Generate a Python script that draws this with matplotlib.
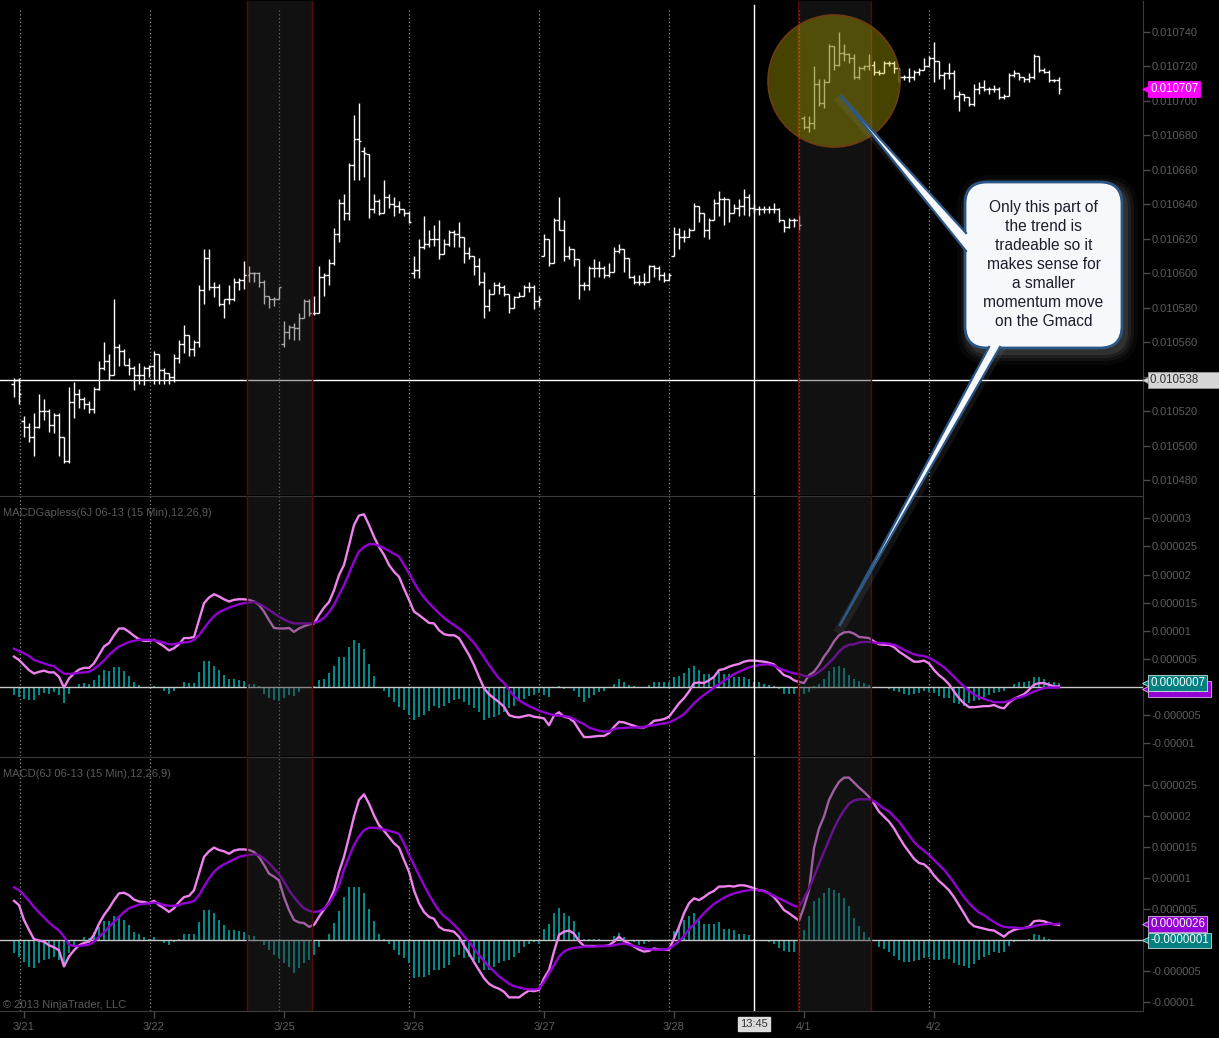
import numpy as np
import matplotlib.pyplot as plt
import matplotlib.transforms as mtransforms
from matplotlib.patches import FancyBboxPatch, Ellipse, Polygon
from matplotlib.lines import Line2D
from matplotlib.ticker import FixedLocator, FuncFormatter

plt.rcParams['font.family'] = ['Liberation Sans', 'DejaVu Sans']

# 6J 06-13 (15 Min) bars, prices in millionths above 0.010000
price_open = [
    536, 538, 514, 511, 505, 511, 520, 520, 512, 518,
    505, 491, 525, 530, 527, 524, 521, 533, 545, 549,
    541, 557, 555, 547, 545, 541, 541, 545, 546, 553,
    544, 542, 540, 551, 559, 564, 556, 560, 590, 609,
    592, 592, 582, 585, 585, 595, 596, 599, 600, 600,
    595, 587, 585, 585, 559, 566, 569, 568, 574, 584,
    577, 577, 598, 599, 606, 623, 641, 635, 663, 678,
    671, 669, 637, 642, 635, 644, 640, 639, 637, 635,
    600, 602, 615, 617, 620, 620, 611, 617, 624, 623,
    621, 612, 610, 604, 595, 581, 588, 593, 592, 588,
    580, 586, 587, 592, 592, 584, 610, 620, 606, 631,
    625, 610, 614, 608, 593, 593, 603, 603, 603, 599,
    601, 613, 614, 609, 598, 595, 595, 595, 604, 603,
    599, 596, 610, 623, 621, 621, 625, 639, 635, 625,
    631, 641, 643, 643, 635, 638, 639, 644, 638, 637,
    637, 637, 637, 637, 631, 627, 631, 631, 690, 685,
    687, 710, 699, 711, 732, 721, 728, 727, 725, 714,
    719, 720, 721, 717, 716, 722, 722, 719, 714, 714,
    714, 717, 718, 720, 725, 723, 715, 716, 716, 703,
    704, 702, 698, 707, 708, 707, 707, 707, 702, 703,
    715, 716, 714, 713, 714, 726, 718, 717, 712, 712]
price_high = [
    539, 539, 517, 513, 519, 530, 527, 521, 519, 519,
    505, 534, 537, 533, 528, 526, 534, 549, 560, 553,
    585, 559, 556, 551, 546, 548, 546, 547, 555, 553,
    545, 542, 553, 561, 570, 564, 561, 593, 614, 614,
    595, 594, 585, 593, 597, 597, 607, 604, 601, 601,
    596, 587, 586, 592, 572, 570, 571, 577, 585, 585,
    587, 604, 600, 608, 626, 643, 646, 664, 692, 699,
    673, 669, 646, 643, 654, 646, 644, 642, 637, 636,
    610, 620, 633, 625, 628, 631, 620, 625, 625, 630,
    621, 615, 610, 609, 601, 591, 595, 595, 593, 588,
    587, 589, 593, 595, 593, 587, 623, 620, 632, 644,
    631, 616, 614, 608, 595, 604, 608, 607, 604, 606,
    615, 617, 614, 609, 599, 599, 600, 605, 605, 604,
    601, 600, 627, 626, 625, 626, 641, 639, 635, 632,
    643, 648, 644, 643, 640, 643, 649, 646, 640, 639,
    639, 639, 641, 638, 631, 632, 632, 634, 691, 691,
    720, 713, 713, 733, 732, 740, 733, 728, 727, 720,
    721, 727, 723, 718, 723, 723, 723, 719, 715, 719,
    718, 719, 725, 726, 734, 723, 717, 722, 718, 706,
    704, 702, 710, 711, 712, 708, 709, 708, 704, 716,
    718, 716, 714, 716, 727, 726, 719, 718, 713, 714]
price_low = [
    528, 524, 505, 502, 494, 510, 515, 508, 507, 494,
    490, 490, 516, 522, 521, 519, 519, 532, 544, 538,
    541, 546, 547, 541, 532, 536, 535, 540, 536, 536,
    536, 536, 537, 548, 554, 552, 552, 557, 582, 590,
    586, 581, 574, 582, 584, 590, 591, 595, 595, 592,
    582, 580, 581, 585, 557, 562, 561, 561, 574, 575,
    576, 577, 587, 593, 605, 618, 631, 631, 654, 654,
    656, 632, 635, 634, 635, 638, 633, 635, 633, 629,
    597, 597, 614, 615, 616, 608, 611, 616, 615, 615,
    606, 608, 599, 593, 574, 578, 588, 588, 587, 577,
    580, 586, 587, 589, 579, 581, 610, 604, 606, 625,
    607, 608, 604, 585, 590, 590, 598, 598, 597, 598,
    601, 612, 601, 597, 594, 593, 593, 595, 598, 596,
    595, 596, 610, 614, 618, 621, 625, 630, 621, 620,
    631, 633, 628, 630, 635, 633, 634, 633, 635, 634,
    635, 635, 635, 630, 624, 626, 627, 625, 684, 682,
    684, 697, 696, 711, 718, 720, 723, 722, 713, 713,
    718, 718, 715, 715, 716, 720, 716, 711, 712, 711,
    712, 715, 718, 720, 711, 713, 707, 713, 701, 694,
    700, 697, 697, 704, 706, 704, 705, 701, 701, 703,
    714, 712, 711, 711, 713, 717, 716, 711, 711, 704]
price_close = [
    538, 530, 511, 505, 511, 520, 520, 512, 518, 505,
    491, 525, 530, 527, 524, 521, 533, 545, 549, 541,
    557, 555, 547, 545, 541, 541, 545, 546, 553, 544,
    542, 540, 551, 559, 564, 556, 560, 590, 609, 592,
    592, 582, 585, 585, 595, 596, 599, 600, 600, 595,
    587, 585, 585, 592, 566, 569, 568, 574, 584, 577,
    577, 598, 599, 606, 623, 641, 635, 663, 678, 677,
    670, 637, 642, 635, 644, 640, 639, 637, 635, 630,
    602, 615, 617, 620, 620, 611, 617, 624, 623, 621,
    612, 610, 604, 595, 581, 588, 593, 592, 588, 580,
    586, 587, 592, 592, 584, 585, 620, 606, 631, 625,
    610, 614, 608, 593, 593, 603, 603, 603, 599, 601,
    613, 614, 609, 598, 595, 595, 595, 604, 603, 599,
    596, 599, 623, 621, 621, 625, 639, 635, 625, 631,
    641, 643, 643, 635, 638, 639, 644, 638, 637, 637,
    637, 637, 637, 631, 627, 631, 631, 628, 685, 687,
    710, 699, 711, 732, 721, 728, 727, 725, 714, 719,
    720, 721, 717, 716, 722, 722, 719, 714, 714, 714,
    717, 718, 720, 725, 723, 715, 716, 716, 703, 704,
    702, 698, 707, 708, 707, 707, 707, 702, 703, 715,
    716, 714, 713, 714, 726, 718, 717, 712, 712, 707]

# MACDGapless(12,26,9), units of 1e-7
gap_macd = [
    54, 48, 39, 30, 24, 27, 29, 26, 26, 18,
    -1, 15, 24, 31, 34, 34, 42, 57, 72, 78,
    92, 104, 104, 98, 91, 85, 82, 82, 84, 78,
    72, 65, 69, 76, 87, 87, 89, 119, 149, 159,
    165, 161, 156, 152, 155, 156, 156, 155, 152, 146,
    134, 119, 105, 104, 104, 105, 98, 104, 108, 111,
    113, 128, 141, 151, 172, 199, 217, 252, 288, 305,
    307, 288, 267, 249, 235, 217, 205, 196, 175, 155,
    134, 128, 121, 114, 113, 101, 94, 92, 92, 87,
    72, 57, 39, 18, -2, -13, -20, -27, -35, -50,
    -53, -54, -52, -50, -53, -54, -56, -68, -51, -45,
    -53, -55, -62, -76, -89, -89, -88, -87, -87, -82,
    -71, -62, -63, -66, -69, -72, -72, -68, -60, -59,
    -57, -53, -41, -29, -20, -8, 7, 8, 7, 12,
    18, 30, 32, 36, 39, 41, 45, 47, 47, 46,
    45, 43, 40, 30, 21, 18, 12, 9, 7, 21,
    27, 39, 54, 66, 81, 92, 97, 98, 95, 89,
    88, 87, 81, 76, 75, 75, 71, 63, 57, 51,
    45, 45, 47, 42, 30, 21, 14, 5, -8, -20,
    -29, -36, -36, -35, -34, -34, -32, -36, -38, -28,
    -21, -17, -13, -5, 4, 7, 7, 4, 1, 1]
gap_avg = [
    68, 64, 60, 55, 48, 45, 42, 39, 37, 30,
    24, 23, 24, 25, 26, 27, 32, 39, 47, 57,
    65, 72, 76, 80, 82, 84, 84, 84, 83, 81,
    79, 76, 76, 78, 79, 80, 84, 92, 104, 116,
    126, 133, 137, 141, 144, 147, 149, 150, 151, 148,
    143, 137, 131, 125, 120, 116, 113, 113, 113, 113,
    114, 117, 123, 133, 146, 164, 181, 202, 223, 241,
    249, 254, 254, 251, 247, 242, 237, 232, 217, 202,
    186, 171, 159, 149, 140, 131, 123, 116, 110, 104,
    97, 88, 78, 66, 53, 39, 27, 15, 7, -5,
    -16, -24, -29, -34, -38, -42, -45, -48, -50, -51,
    -52, -53, -57, -62, -66, -72, -75, -78, -79, -79,
    -75, -73, -73, -72, -72, -72, -71, -69, -68, -66,
    -65, -63, -59, -54, -48, -39, -29, -21, -14, -8,
    -1, 5, 11, 17, 23, 27, 31, 35, 37, 39,
    40, 40, 38, 33, 30, 27, 24, 23, 20, 18,
    21, 27, 34, 43, 52, 63, 71, 75, 76, 79,
    80, 80, 79, 78, 78, 77, 75, 71, 66, 62,
    58, 56, 55, 52, 47, 41, 35, 27, 18, 9,
    1, -7, -13, -18, -21, -24, -27, -27, -27, -25,
    -21, -19, -16, -12, -8, -5, -2, -1, -1, -1]
gap_diff = [
    -14, -18, -21, -24, -23, -15, -11, -12, -9, -15,
    -28, -12, 0, 5, 7, 5, 12, 21, 30, 28,
    35, 36, 28, 20, 9, 4, -1, 0, 1, -1,
    -8, -12, -7, -1, 8, 7, 7, 27, 47, 46,
    38, 30, 21, 14, 14, 12, 11, 5, 5, 2,
    -12, -19, -23, -25, -19, -14, -16, -9, -2, -1,
    1, 12, 15, 24, 37, 54, 54, 71, 84, 79,
    68, 40, 20, 0, -8, -18, -27, -36, -41, -50,
    -59, -53, -50, -43, -34, -37, -33, -29, -23, -21,
    -27, -32, -37, -45, -59, -55, -53, -49, -44, -38,
    -33, -25, -21, -16, -14, -11, -14, -17, -2, 2,
    -4, -1, -8, -17, -26, -20, -15, -9, -8, -2,
    6, 14, 8, 4, 1, 0, 0, 4, 9, 8,
    8, 9, 17, 20, 24, 34, 37, 30, 23, 23,
    18, 27, 23, 23, 18, 17, 18, 14, 9, 9,
    5, 4, 1, -4, -12, -12, -12, -14, -12, -9,
    2, 5, 14, 28, 36, 37, 33, 21, 15, 11,
    7, 4, 0, -2, -2, -4, -7, -9, -13, -14,
    -13, -10, -7, -9, -11, -16, -20, -20, -29, -31,
    -33, -29, -25, -23, -18, -14, -11, -9, -8, -1,
    5, 8, 8, 11, 17, 17, 14, 9, 8, 7]

# MACD(12,26,9), units of 1e-7
macd_line = [
    63, 56, 32, 16, 1, -1, -3, -9, -12, -17,
    -43, -27, -17, -9, -5, -3, 8, 26, 40, 51,
    64, 75, 76, 72, 65, 62, 61, 59, 63, 56,
    51, 45, 51, 61, 69, 71, 80, 107, 134, 143,
    149, 145, 143, 139, 144, 146, 146, 145, 142, 134,
    121, 107, 102, 96, 69, 48, 32, 28, 27, 21,
    24, 37, 49, 61, 80, 110, 134, 166, 199, 226,
    235, 220, 201, 185, 176, 166, 156, 149, 129, 110,
    80, 59, 45, 37, 34, 21, 16, 15, 13, 5,
    -9, -22, -36, -49, -62, -71, -76, -79, -84, -93,
    -93, -93, -87, -82, -83, -81, -62, -49, -19, 8,
    13, 15, 10, -2, -10, -10, -10, -10, -10, -9,
    -3, 5, -2, -6, -11, -16, -19, -18, -14, -16,
    -16, -16, 2, 21, 43, 59, 67, 64, 69, 75,
    79, 86, 86, 87, 86, 88, 88, 86, 83, 80,
    79, 75, 69, 59, 48, 43, 37, 31, 53, 80,
    148, 180, 199, 226, 242, 255, 262, 262, 254, 246,
    239, 231, 220, 207, 199, 191, 180, 166, 153, 142,
    131, 124, 122, 115, 104, 95, 88, 80, 69, 56,
    43, 29, 22, 20, 18, 16, 15, 10, 5, 12,
    16, 18, 19, 21, 30, 31, 30, 27, 25, 24]
macd_avg = [
    85, 80, 72, 63, 53, 44, 36, 28, 21, 15,
    5, -8, -10, -10, -9, -8, -3, 5, 12, 21,
    29, 37, 45, 51, 54, 57, 58, 59, 60, 59,
    56, 55, 55, 56, 59, 60, 63, 72, 86, 99,
    110, 117, 122, 126, 130, 134, 136, 137, 138, 137,
    131, 124, 115, 106, 94, 80, 69, 59, 51, 47,
    45, 46, 50, 59, 72, 88, 113, 134, 153, 167,
    177, 181, 181, 180, 178, 176, 174, 171, 156, 137,
    121, 104, 88, 73, 59, 47, 38, 32, 24, 16,
    6, -3, -14, -25, -34, -44, -51, -59, -65, -71,
    -75, -77, -79, -80, -80, -79, -68, -54, -41, -27,
    -19, -15, -13, -12, -11, -11, -11, -10, -10, -10,
    -9, -7, -6, -8, -10, -12, -14, -15, -16, -16,
    -16, -14, -9, -2, 6, 17, 25, 34, 43, 51,
    58, 63, 68, 72, 75, 77, 79, 80, 81, 80,
    78, 75, 71, 67, 63, 59, 55, 53, 67, 83,
    102, 123, 142, 161, 180, 196, 209, 220, 225, 227,
    227, 227, 224, 218, 212, 207, 199, 191, 180, 169,
    158, 150, 144, 137, 129, 121, 113, 103, 92, 80,
    69, 59, 51, 44, 40, 34, 29, 24, 21, 20,
    20, 19, 19, 20, 22, 24, 25, 26, 25, 26]
macd_diff = [
    -21, -27, -36, -44, -46, -38, -33, -31, -27, -33,
    -43, -22, -9, 0, 5, 3, 12, 21, 31, 31,
    39, 38, 32, 24, 13, 9, 5, 2, 5, 0,
    -5, -9, -3, 2, 9, 9, 10, 29, 48, 48,
    44, 32, 24, 16, 16, 15, 13, 8, 6, -2,
    -9, -17, -24, -30, -38, -44, -53, -46, -38, -33,
    -25, -11, 0, 9, 27, 47, 69, 86, 86, 86,
    75, 49, 30, 10, 1, -7, -16, -25, -30, -38,
    -62, -60, -60, -57, -49, -49, -46, -41, -27, -25,
    -30, -27, -33, -38, -49, -48, -44, -38, -34, -33,
    -27, -21, -11, -6, -3, -6, 17, 25, 44, 51,
    43, 38, 30, 13, 1, 2, 2, 2, -1, 0,
    6, 11, 5, -1, -4, -9, -6, -3, -1, -2,
    -2, -2, 15, 22, 32, 39, 43, 34, 26, 26,
    26, 28, 18, 18, 16, 10, 10, 8, 2, 0,
    -2, -3, -6, -14, -18, -19, -19, -22, 16, 38,
    63, 68, 75, 84, 80, 76, 68, 55, 36, 22,
    13, 5, -2, -11, -15, -19, -26, -32, -36, -36,
    -34, -33, -29, -27, -33, -33, -31, -31, -38, -41,
    -43, -45, -39, -33, -27, -24, -19, -21, -19, -10,
    -3, -2, -1, 1, 9, 8, 5, 1, 0, -1]

day_labels = ['3/21', '3/22', '3/25', '3/26', '3/27', '3/28', '4/1', '4/2']
day_first_bar = [2, 28, 54, 80, 106, 132, 158, 184]
session_breaks = [1.2, 27.2, 53.0, 79.0, 105.0, 131.0, 157.0, 183.0]
highlight_spans = [(46.55, 59.55), (156.75, 171.4)]
cursor_bar = 148
cursor_price = 0.010538

price_ticks = [0.010480, 0.010500, 0.010520, 0.010540, 0.010560, 0.010580, 0.010600,
               0.010620, 0.010640, 0.010660, 0.010680, 0.010700, 0.010720, 0.010740]
gap_ticks = [-0.00001, -0.000005, 0.000005, 0.00001, 0.000015, 0.00002, 0.000025, 0.00003]
macd_ticks = [-0.00001, -0.000005, 0.000005, 0.00001, 0.000015, 0.00002, 0.000025]

PINK = '#ee82ee'
PURPLE = '#9400d3'
TEAL = '#008b8b'

W, H = 1219, 1038
fig = plt.figure(figsize=(W / 100, H / 100), dpi=100, facecolor='black')
# pixel coordinates measured from the top-left corner of the picture
px = mtransforms.Affine2D().scale(1 / 100, -1 / 100).translate(0, H / 100) + fig.dpi_scale_trans


def panel(top, bottom):
    return fig.add_axes([0, 1 - bottom / H, 1143 / W, (bottom - top) / H])


ax_p = panel(1, 495)
ax_g = panel(496, 756)
ax_m = panel(757, 1011)
axes = (ax_p, ax_g, ax_m)

idx = np.arange(len(price_close))
o = 0.0100 + np.array(price_open) * 1e-6
hi = 0.0100 + np.array(price_high) * 1e-6
lo = 0.0100 + np.array(price_low) * 1e-6
c = 0.0100 + np.array(price_close) * 1e-6

for ax in axes:
    ax.set_facecolor('black')
    ax.set_xlim(-2.8, 225.8)
    for side in ('left', 'top', 'bottom'):
        ax.spines[side].set_visible(False)
    ax.spines['right'].set_color('#3c3c3c')
    ax.yaxis.tick_right()
    ax.tick_params(axis='y', direction='out', length=5, width=1, color='#4a4a4a',
                   labelcolor='#5c5c5c', labelsize=8, pad=1)
for ax in (ax_g, ax_m):
    ax.spines['top'].set_visible(True)
    ax.spines['top'].set_color('#3c3c3c')
ax_m.spines['bottom'].set_visible(True)
ax_m.spines['bottom'].set_color('#3c3c3c')

# price panel
ax_p.set_ylim(0.0104713, 0.0107580)
ax_p.vlines(idx, lo, hi, color='white', lw=1, zorder=2)
ax_p.hlines(o, idx - 0.5, idx, color='white', lw=1, zorder=2)
ax_p.hlines(c, idx, idx + 0.5, color='white', lw=1, zorder=2)
ax_p.yaxis.set_major_locator(FixedLocator(price_ticks))
ax_p.yaxis.set_major_formatter(FuncFormatter(lambda v, p: f'{v:.6f}'))
ax_p.tick_params(axis='x', bottom=False, labelbottom=False)

# indicator panels
small = FuncFormatter(lambda v, p: f'{v:.6f}'.rstrip('0'))
ax_g.set_ylim(-122.7e-7, 339.6e-7)
ax_m.set_ylim(-115e-7, 295.3e-7)
for ax, line, avg, diff, ticks in ((ax_g, gap_macd, gap_avg, gap_diff, gap_ticks),
                                   (ax_m, macd_line, macd_avg, macd_diff, macd_ticks)):
    ax.bar(idx, np.array(diff) * 1e-7, width=0.45, color=TEAL, zorder=2)
    ax.axhline(0, color='#c8c8c8', lw=1, zorder=2.5)
    ax.plot(idx, np.array(line) * 1e-7, color=PINK, lw=1.7, zorder=3)
    ax.plot(idx, np.array(avg) * 1e-7, color=PURPLE, lw=1.7, zorder=3.1)
    ax.yaxis.set_major_locator(FixedLocator(ticks))
    ax.yaxis.set_major_formatter(small)
ax_g.tick_params(axis='x', bottom=False, labelbottom=False)
ax_m.set_xticks(day_first_bar)
ax_m.set_xticklabels(day_labels)
ax_m.tick_params(axis='x', direction='out', length=5, width=1, color='#4a4a4a',
                 labelcolor='#5c5c5c', labelsize=8, pad=3)

# session separators
for s in session_breaks:
    ax_p.axvline(s, ymax=0.986, color='#8c8c8c', lw=0.9, ls=(0, (1, 2)), zorder=1)
    ax_g.axvline(s, color='#8c8c8c', lw=0.9, ls=(0, (1, 2)), zorder=1)
    ax_m.axvline(s, color='#8c8c8c', lw=0.9, ls=(0, (1, 2)), zorder=1)

# crosshair
ax_p.axvline(cursor_bar, ymax=0.992, color='white', lw=1, zorder=4)
ax_g.axvline(cursor_bar, color='white', lw=1, zorder=4)
ax_m.axvline(cursor_bar, color='white', lw=1, zorder=4)
ax_p.axhline(cursor_price, color='white', lw=1, zorder=4)

# highlighted time spans
for a, b in highlight_spans:
    for ax in axes:
        ax.axvspan(a, b, fc='#2c2c2c', alpha=0.4, lw=0, zorder=5)
        ax.axvline(a, color='#5a0808', lw=1, zorder=5)
        ax.axvline(b, color='#5a0808', lw=1, zorder=5)


def tag(ax, y, text, fc, tc, ec):
    tr = ax.get_yaxis_transform()
    ax.plot([1.0048], [y], marker='<', ms=8.5, color=fc, mec=ec, mew=0.6,
            transform=tr, clip_on=False, zorder=10)
    ax.text(1.0062, y, text, transform=tr, ha='left', va='center', fontsize=8.3, color=tc,
            bbox=dict(boxstyle='square,pad=0.16', fc=fc, ec=ec, lw=0.6),
            clip_on=False, zorder=11)


tag(ax_p, cursor_price, f'{cursor_price:.6f}      ', '#d6d6d6', '#333333', '#9a9a9a')
tag(ax_p, c[-1], f'{c[-1]:.6f}', '#ff00ff', 'white', '#ff00ff')
tag(ax_g, gap_avg[-1] * 1e-7 - 3e-7, f'{gap_avg[-1] * 1e-7:.7f}', PURPLE, 'white', '#d8b0f0')
tag(ax_g, gap_diff[-1] * 1e-7, f'{gap_diff[-1] * 1e-7:.7f}', '#008080', 'white', '#bfe0e0')
tag(ax_m, macd_avg[-1] * 1e-7, f'{macd_avg[-1] * 1e-7:.7f}', PURPLE, 'white', '#d8b0f0')
tag(ax_m, macd_diff[-1] * 1e-7, f'{macd_diff[-1] * 1e-7:.7f}', '#008080', 'white', '#bfe0e0')

ax_m.text(cursor_bar, -0.051, '13:45', transform=ax_m.get_xaxis_transform(), ha='center',
          va='center', fontsize=8, color='#333333', clip_on=False,
          bbox=dict(boxstyle='square,pad=0.22', fc='#dcdcdc', ec='#dcdcdc'))

label_kw = dict(fontsize=8, color='#5a5a5a', ha='left', va='center', zorder=6)
ax_g.text(0.0026, 0.9346, 'MACDGapless(6J 06-13 (15 Min),12,26,9)', transform=ax_g.transAxes, **label_kw)
ax_m.text(0.0026, 0.933, 'MACD(6J 06-13 (15 Min),12,26,9)', transform=ax_m.transAxes, **label_kw)
ax_m.text(0.0026, 0.024, '© 2013 NinjaTrader, LLC', transform=ax_m.transAxes, **label_kw)

# highlight circle
fig.add_artist(Ellipse((834, 81), 132, 132, transform=px, fc='#c4bc00', ec='none',
                       alpha=0.36, zorder=18))
fig.add_artist(Ellipse((834, 81), 132, 132, transform=px, fill=False, ec='#6e3c14',
                       lw=1.2, zorder=18.5))

# callout
BLUE = '#2b5686'
for grow, a in ((12, 0.05), (8, 0.08), (5, 0.1), (2, 0.14)):
    fig.add_artist(FancyBboxPatch((965 - grow + 4, 182 - grow + 5), 157 + 2 * grow, 166 + 2 * grow,
                                  boxstyle=f'round,pad=0,rounding_size={22 + grow}', transform=px,
                                  fc='#9a9a9a', ec='none', alpha=a, zorder=20))
for tip, b1, b2 in (((841, 96), (966, 233), (966, 251)), ((840, 625), (989, 347), (1000, 347))):
    fig.add_artist(Line2D([tip[0], (b1[0] + b2[0]) / 2 + 4], [tip[1] + 4, (b1[1] + b2[1]) / 2 + 4],
                          transform=px, color='#9a9a9a', lw=7, alpha=0.12, zorder=20))
fig.add_artist(FancyBboxPatch((965, 182), 157, 166, boxstyle='round,pad=0,rounding_size=22',
                              transform=px, fc='#f6f8fc', ec=BLUE, lw=2, zorder=22))
for tip, b1, b2, inner in (((841, 96), (966, 233), (966, 251), (974, 242)),
                           ((840, 625), (989, 347), (1000, 347), (994, 340))):
    fig.add_artist(Polygon([tip, b1, inner, b2], closed=True, transform=px, fc='#f6f8fc',
                           ec='none', zorder=23))
    for b in (b1, b2):
        fig.add_artist(Line2D([tip[0], b[0]], [tip[1], b[1]], transform=px, color=BLUE,
                              lw=1.6, zorder=24))
fig.text(1043.5, 264.5, 'Only this part of\nthe trend is\ntradeable so it\nmakes sense for\n'
         'a smaller\nmomentum move\non the Gmacd', transform=px, ha='center', va='center',
         fontsize=11.2, linespacing=1.32, color='#1d1d2b', zorder=25)

fig.savefig('out.png', dpi=100, facecolor='black')
